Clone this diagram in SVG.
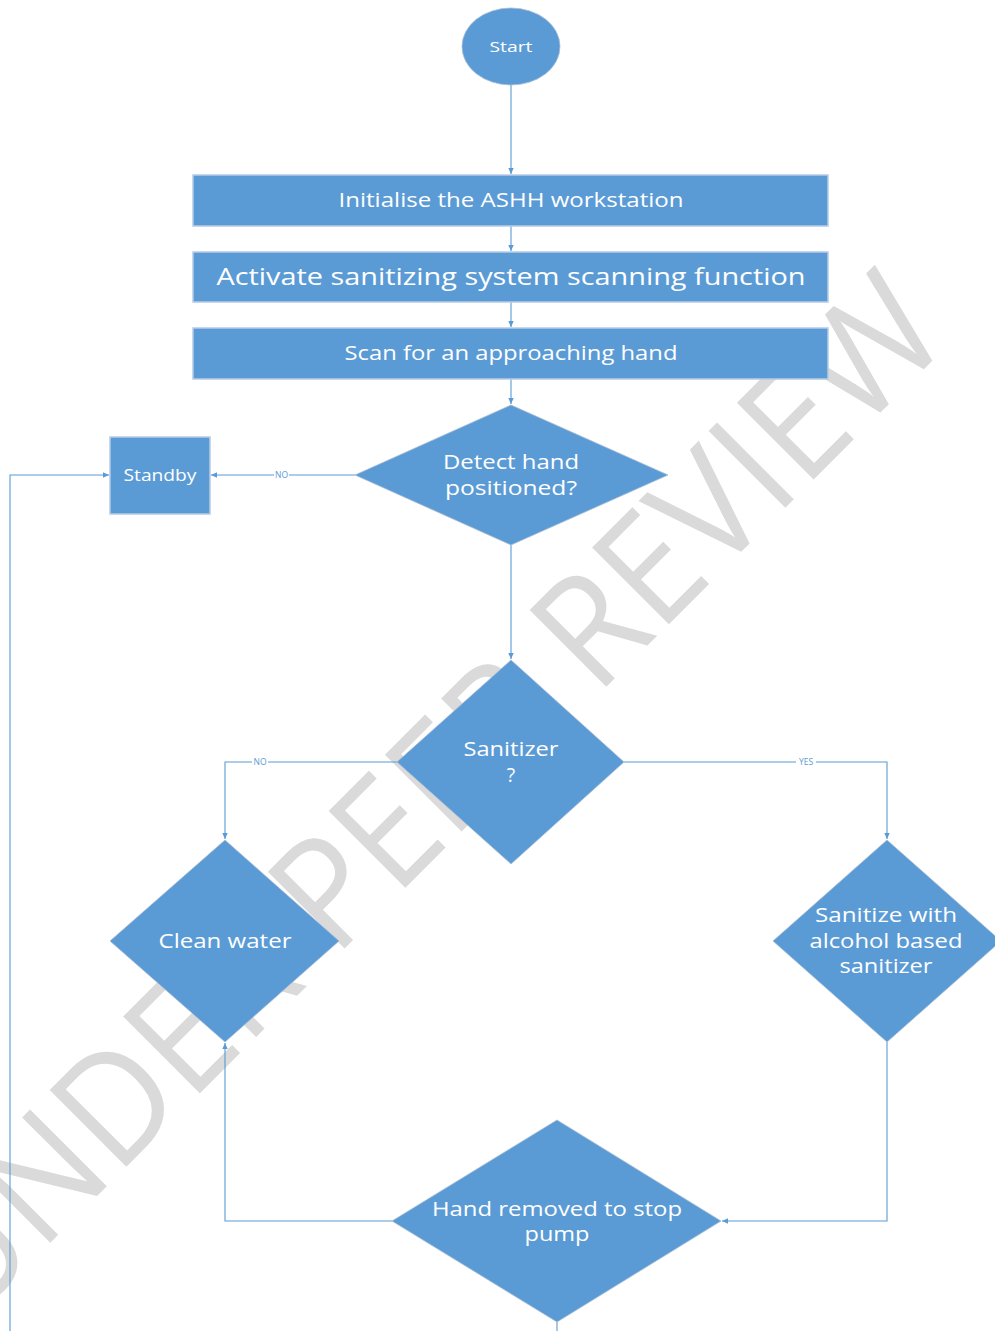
<svg xmlns="http://www.w3.org/2000/svg" width="995" height="1331" viewBox="0 0 995 1331">
<defs>
<marker id="arr" markerWidth="7" markerHeight="7" refX="6" refY="3.5" orient="auto" markerUnits="userSpaceOnUse">
<path d="M0,0.8 L6,3.5 L0,6.2 z" fill="#5b9bd5"/>
</marker>
<style>
.bg{fill:#ffffff}
.wm{fill:#dadada;font-family:"Open Sans","Noto Sans","Liberation Sans",sans-serif;font-size:152px}
.box{fill:#5b9bd5;stroke:#b7cce6;stroke-width:1.5}
.dia{fill:#5b9bd5;stroke:#a9bdd3;stroke-width:0.8}
.t{fill:#ffffff;font-family:"Open Sans","Noto Sans","Liberation Sans",sans-serif;text-anchor:middle}
.c{fill:none;stroke:#5b9bd5;stroke-width:1.1}
.lbl{fill:#5b9bd5;font-family:"Open Sans","Liberation Sans",sans-serif;font-size:8.5px;text-anchor:middle}
.lb{fill:#ffffff}
</style>
</defs>
<rect class="bg" x="0" y="0" width="995" height="1331"/>
<text class="wm" x="460" y="833" text-anchor="middle" textLength="1395" lengthAdjust="spacingAndGlyphs" transform="rotate(-45 460 833)">UNDER PEER REVIEW</text>

<g id="connectors">
<path class="c" d="M511,85 V174" marker-end="url(#arr)"/>
<path class="c" d="M511,226 V251" marker-end="url(#arr)"/>
<path class="c" d="M511,302 V327" marker-end="url(#arr)"/>
<path class="c" d="M511,379 V404" marker-end="url(#arr)"/>
<path class="c" d="M355,475 H211" marker-end="url(#arr)"/>
<path class="c" d="M511,545 V659" marker-end="url(#arr)"/>
<path class="c" d="M397,762 H225 V839" marker-end="url(#arr)"/>
<path class="c" d="M624,762 H887 V839" marker-end="url(#arr)"/>
<path class="c" d="M887,1042 V1221 H722" marker-end="url(#arr)"/>
<path class="c" d="M392,1221 H225 V1043" marker-end="url(#arr)"/>
<path class="c" d="M557,1322 V1345 H10 V475 H109" marker-end="url(#arr)"/>
<rect class="lb" x="274" y="471" width="15" height="8"/>
<text class="lbl" x="281.5" y="478">NO</text>
<rect class="lb" x="252" y="758" width="16" height="8"/>
<text class="lbl" x="260" y="765">NO</text>
<rect class="lb" x="796" y="758" width="20" height="8"/>
<text class="lbl" x="806" y="765">YES</text>
</g>

<g id="start">
<ellipse class="dia" cx="511" cy="46.5" rx="49" ry="38.5"/>
<text class="t" x="511" y="52" font-size="15" textLength="43" lengthAdjust="spacingAndGlyphs">Start</text>
</g>
<g id="init">
<rect class="box" x="193" y="175" width="635" height="51"/>
<text class="t" x="511" y="207" font-size="19.5" textLength="345" lengthAdjust="spacingAndGlyphs">Initialise the ASHH workstation</text>
</g>
<g id="activate">
<rect class="box" x="193" y="252" width="635" height="50"/>
<text class="t" x="511" y="285" font-size="24.5" textLength="589" lengthAdjust="spacingAndGlyphs">Activate sanitizing system scanning function</text>
</g>
<g id="scan">
<rect class="box" x="193" y="328" width="635" height="51"/>
<text class="t" x="511" y="360" font-size="19.5" textLength="333" lengthAdjust="spacingAndGlyphs">Scan for an approaching hand</text>
</g>
<g id="detect">
<polygon class="dia" points="511,405 668,475 511,545 355,475"/>
<text class="t" x="511" y="469" font-size="19.5" textLength="136" lengthAdjust="spacingAndGlyphs">Detect hand</text>
<text class="t" x="511" y="495" font-size="19.5" textLength="132" lengthAdjust="spacingAndGlyphs">positioned?</text>
</g>
<g id="standby">
<rect class="box" x="110" y="437" width="100" height="77"/>
<text class="t" x="160" y="481" font-size="16" textLength="73" lengthAdjust="spacingAndGlyphs">Standby</text>
</g>
<g id="sanitizer">
<polygon class="dia" points="511,660 624,762 511,864 397,762"/>
<text class="t" x="511" y="756" font-size="19.5" textLength="95" lengthAdjust="spacingAndGlyphs">Sanitizer</text>
<text class="t" x="511" y="782" font-size="19.5">?</text>
</g>
<g id="clean">
<polygon class="dia" points="225,840 339,941 225,1042 110,941"/>
<text class="t" x="225" y="948" font-size="19.5" textLength="133" lengthAdjust="spacingAndGlyphs">Clean water</text>
</g>
<g id="sanitize">
<polygon class="dia" points="887,840 1001,941 887,1042 773,941"/>
<text class="t" x="886" y="922" font-size="19.5" textLength="142" lengthAdjust="spacingAndGlyphs">Sanitize with</text>
<text class="t" x="886" y="948" font-size="19.5" textLength="153" lengthAdjust="spacingAndGlyphs">alcohol based</text>
<text class="t" x="886" y="973" font-size="19.5" textLength="93" lengthAdjust="spacingAndGlyphs">sanitizer</text>
</g>
<g id="handremoved">
<polygon class="dia" points="557,1120 721,1221 557,1322 392,1221"/>
<text class="t" x="557" y="1216" font-size="19.5" textLength="250" lengthAdjust="spacingAndGlyphs">Hand removed to stop</text>
<text class="t" x="557" y="1241" font-size="19.5" textLength="65" lengthAdjust="spacingAndGlyphs">pump</text>
</g>
</svg>
